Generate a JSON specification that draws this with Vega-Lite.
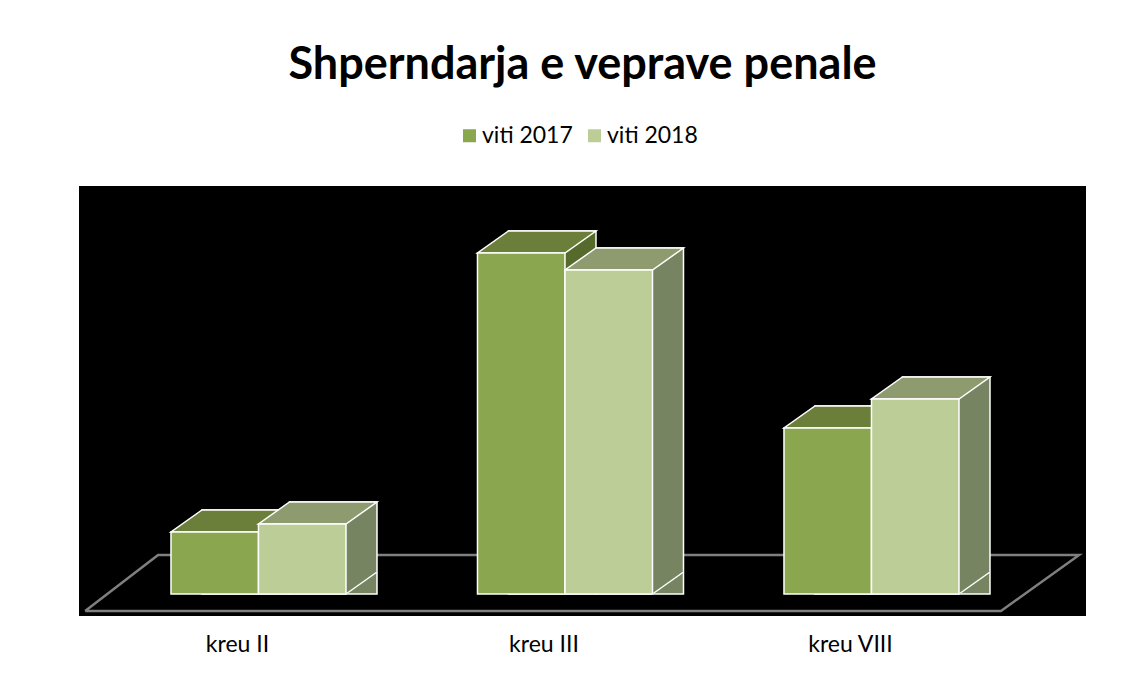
{
  "$schema": "https://vega.github.io/schema/vega-lite/v6.json",
  "width": 1007,
  "height": 430,
  "autosize": {"type": "none"},
  "padding": {"left": 79, "top": 186, "right": 62, "bottom": 61},
  "background": "white",
  "view": {"fill": "black", "stroke": null},
  "title": {"text": "Shperndarja e veprave penale", "font": "Lato", "fontSize": 45, "fontWeight": "bold", "color": "black", "anchor": "middle", "offset": 36},
  "datasets": {
    "bars": [
      {"cat": "kreu II", "year": "viti 2017", "v": 62},
      {"cat": "kreu II", "year": "viti 2018", "v": 70},
      {"cat": "kreu III", "year": "viti 2017", "v": 341},
      {"cat": "kreu III", "year": "viti 2018", "v": 324},
      {"cat": "kreu VIII", "year": "viti 2017", "v": 166},
      {"cat": "kreu VIII", "year": "viti 2018", "v": 195}
    ],
    "floor": [
      {"u": -0.564, "h": -17, "o": 0},
      {"u": -0.326, "h": 39, "o": 1},
      {"u": 2.679, "h": 39, "o": 2},
      {"u": 2.424, "h": -17, "o": 3},
      {"u": -0.564, "h": -17, "o": 4}
    ]
  },
  "resolve": {"scale": {"x": "independent", "xOffset": "independent", "color": "independent"}, "axis": {"x": "independent"}},
  "layer": [
    {
      "data": {"name": "floor"},
      "mark": {"type": "line", "color": "#7f7f7f", "strokeWidth": 2.5},
      "encoding": {
        "x": {"field": "u", "type": "quantitative", "scale": {"domain": [-0.584, 2.7015], "nice": false, "zero": false}, "axis": null},
        "y": {"field": "h", "type": "quantitative", "scale": {"domain": [-22, 408], "nice": false, "zero": false}, "axis": null},
        "order": {"field": "o"}
      }
    },
    {
      "data": {"name": "bars"},
      "mark": {"type": "bar", "yOffset": -22, "stroke": "white", "strokeWidth": 1.5},
      "encoding": {
        "x": {"field": "cat", "type": "nominal", "sort": null, "scale": {"paddingInner": 0.429, "paddingOuter": 0.35725, "align": 0.5616}, "axis": null},
        "xOffset": {"field": "year", "type": "nominal"},
        "y": {"field": "v", "type": "quantitative", "scale": {"domain": [-22, 408], "nice": false, "zero": false}, "axis": null},
        "y2": {"datum": 0},
        "color": {"field": "year", "type": "nominal", "scale": {"domain": ["viti 2017", "viti 2018"], "range": ["#566a2b", "#778461"]}, "legend": null}
      }
    },
    {
      "data": {"name": "bars"},
      "mark": {"type": "point", "shape": "M43.75,1 L43.75,-23 L74.75,-23 Z", "size": 4, "filled": true, "opacity": 1, "strokeWidth": 0},
      "encoding": {
        "x": {"field": "cat", "type": "nominal", "sort": null, "scale": {"paddingInner": 0.429, "paddingOuter": 0.35725, "align": 0.42}, "axis": null},
        "xOffset": {"field": "year", "type": "nominal"},
        "y": {"datum": 0, "type": "quantitative", "scale": {"domain": [-22, 408], "nice": false, "zero": false}, "axis": null},
        "color": {"field": "year", "type": "nominal", "scale": {"domain": ["viti 2017", "viti 2018"], "range": ["#566a2b", "#778461"]}, "legend": null}
      }
    },
    {
      "data": {"name": "bars"},
      "mark": {"type": "point", "shape": "M43.75,0 L74.75,-22", "size": 4, "filled": false, "opacity": 1, "color": "white", "strokeWidth": 1.5},
      "encoding": {
        "x": {"field": "cat", "type": "nominal", "sort": null, "scale": {"paddingInner": 0.429, "paddingOuter": 0.35725, "align": 0.42}, "axis": null},
        "xOffset": {"field": "year", "type": "nominal"},
        "y": {"datum": 0, "type": "quantitative", "scale": {"domain": [-22, 408], "nice": false, "zero": false}, "axis": null}
      }
    },
    {
      "data": {"name": "bars"},
      "mark": {"type": "point", "shape": "M-43.75,0 L43.75,0 L74.75,-22 L-12.75,-22 Z", "size": 4, "filled": true, "opacity": 1, "stroke": "white", "strokeWidth": 1.5},
      "encoding": {
        "x": {"field": "cat", "type": "nominal", "sort": null, "scale": {"paddingInner": 0.429, "paddingOuter": 0.35725, "align": 0.42}, "axis": null},
        "xOffset": {"field": "year", "type": "nominal"},
        "y": {"field": "v", "type": "quantitative", "scale": {"domain": [-22, 408], "nice": false, "zero": false}, "axis": null},
        "color": {"field": "year", "type": "nominal", "scale": {"domain": ["viti 2017", "viti 2018"], "range": ["#6b7e3a", "#8d9b6f"]}, "legend": null}
      }
    },
    {
      "data": {"name": "bars"},
      "mark": {"type": "bar", "stroke": "white", "strokeWidth": 1.5},
      "encoding": {
        "x": {"field": "cat", "type": "nominal", "sort": null, "title": null, "scale": {"paddingInner": 0.429, "paddingOuter": 0.35725, "align": 0.42},
          "axis": {"orient": "bottom", "ticks": false, "domain": false, "grid": false, "labelAngle": 0, "labelFont": "Lato", "labelFontSize": 23, "labelColor": "black", "labelPadding": 17, "labelOffset": -21}},
        "xOffset": {"field": "year", "type": "nominal"},
        "y": {"field": "v", "type": "quantitative", "scale": {"domain": [-22, 408], "nice": false, "zero": false}, "axis": null},
        "y2": {"datum": 0},
        "color": {"field": "year", "type": "nominal", "title": null,
          "scale": {"domain": ["viti 2017", "viti 2018"], "range": ["#8aa64e", "#bccd97"]},
          "legend": {"orient": "none", "legendX": 379, "legendY": -62, "direction": "horizontal", "symbolType": "square", "symbolSize": 169, "symbolStrokeWidth": 0, "labelFont": "Lato", "labelFontSize": 23, "labelColor": "black", "labelOffset": 1, "columnPadding": 10, "title": null}}
      }
    }
  ]
}
